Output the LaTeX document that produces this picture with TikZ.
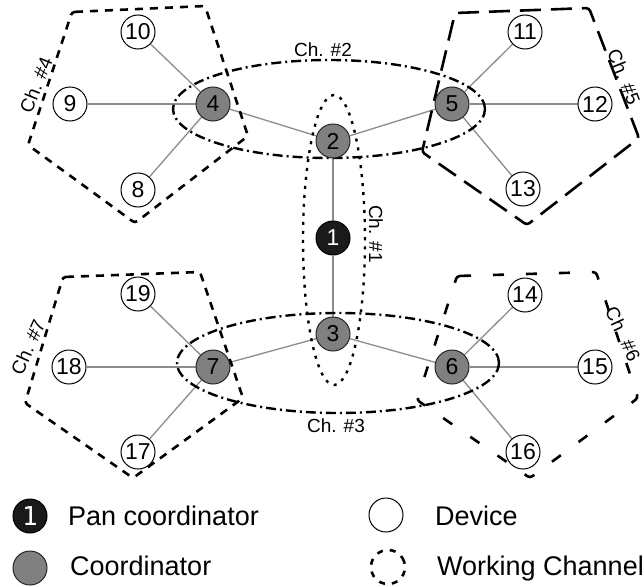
\documentclass[tikz,border=0pt]{standalone}
\usepackage{fontspec}
\setmainfont{Liberation Sans}
\newfontfamily\monofnt{DejaVu Sans Mono}
\usetikzlibrary{backgrounds}
\definecolor{coordgray}{HTML}{808080}
\definecolor{pangray}{HTML}{1A1A1A}
\definecolor{linkgray}{HTML}{8C8C8C}
\tikzset{
  dev/.style={circle,draw=black,line width=1pt,fill=white,minimum size=34pt,inner sep=0pt,font=\fontsize{23}{23}\selectfont},
  crd/.style={dev,fill=coordgray,draw=black!85},
  pan/.style={dev,fill=pangray,text=white},
  link/.style={draw=linkgray,line width=1.3pt},
  chA/.style={line width=2.6pt,dash pattern=on 8pt off 7pt},
  chB/.style={line width=2.6pt,dash pattern=on 21pt off 10pt},
  chC/.style={line width=2.6pt,dash pattern=on 11pt off 22pt},
  chE/.style={line width=2.4pt,dash pattern=on 10pt off 4pt on 2pt off 4pt},
  chD/.style={line width=2.4pt,dash pattern=on 3pt off 6pt},
  chlab/.style={font=\fontsize{19}{19}\selectfont,inner sep=0pt},
  legtxt/.style={font=\fontsize{27}{27}\selectfont,anchor=base west,inner sep=0pt},
}
\begin{document}
\begin{tikzpicture}[x=1pt,y=-1pt]
\useasboundingbox (0,0) rectangle (644,586);
% nodes
\node[pan] (n1) at (333,238) {1};
\node[crd] (n2) at (333,141) {2};
\node[crd] (n3) at (333,334) {3};
\node[crd] (n4) at (213,104) {4};
\node[crd] (n5) at (452,104) {5};
\node[crd] (n6) at (452,367) {6};
\node[crd] (n7) at (213,367) {7};
\node[dev] (n8) at (138,190) {8};
\node[dev] (n9) at (70,104) {9};
\node[dev] (n10) at (138,32) {10};
\node[dev] (n11) at (525,32) {11};
\node[dev] (n12) at (595,104) {12};
\node[dev] (n13) at (523,189) {13};
\node[dev] (n14) at (525,295) {14};
\node[dev] (n15) at (595,367) {15};
\node[dev] (n16) at (523,452) {16};
\node[dev] (n17) at (138,452) {17};
\node[dev] (n18) at (69,367) {18};
\node[dev] (n19) at (138,294) {19};
\begin{scope}[on background layer]
  \draw[link] (n1) -- (n2);
  \draw[link] (n1) -- (n3);
  \draw[link] (n2) -- (n4);
  \draw[link] (n2) -- (n5);
  \draw[link] (n3) -- (n7);
  \draw[link] (n3) -- (n6);
  \draw[link] (n4) -- (n8);
  \draw[link] (n4) -- (n9);
  \draw[link] (n4) -- (n10);
  \draw[link] (n5) -- (n11);
  \draw[link] (n5) -- (n12);
  \draw[link] (n5) -- (n13);
  \draw[link] (n6) -- (n14);
  \draw[link] (n6) -- (n15);
  \draw[link] (n6) -- (n16);
  \draw[link] (n7) -- (n17);
  \draw[link] (n7) -- (n18);
  \draw[link] (n7) -- (n19);
  % channels
  \draw[chE] (329,109) ellipse [x radius=156pt, y radius=49pt];
  \draw[chE] (338,363) ellipse [x radius=161pt, y radius=50pt];
  \draw[chD] (334,240) ellipse [x radius=31pt, y radius=145pt];
  \draw[chA,rounded corners=3pt] (72,12) -- (205,6) -- (248,136) -- (135,223) -- (28,145) -- cycle;
  \draw[chB,rounded corners=3pt] (455,13) -- (589,8) -- (639,138) -- (527,225) -- (422,152) -- cycle;
  \draw[chC,rounded corners=3pt] (457,276) -- (596,272) -- (638,398) -- (530,478) -- (417,400) -- cycle;
  \draw[chA,rounded corners=3pt] (63,277) -- (200,272) -- (243,398) -- (133,478) -- (25,403) -- cycle;
\end{scope}
% channel labels
\node[chlab] (l2) at (323,50) {Ch. \#2};
\node[chlab] (l3) at (336,426) {Ch. \#3};
\node[chlab,rotate=-90] (l1) at (376,234) {Ch. \#1};
\node[chlab,rotate=68] (l4) at (36,85) {Ch. \#4};
\node[chlab,rotate=-68] (l5) at (624,77) {Ch. \#5};
\node[chlab,rotate=-65] (l6) at (623,334) {Ch. \#6};
\node[chlab,rotate=66] (l7) at (28,347) {Ch. \#7};
% legend
\node[pan,font=\monofnt\fontsize{26}{26}\selectfont] (lp) at (30,516) {1};
\node[legtxt] (lpt) at (68,525) {Pan coordinator};
\node[crd] (lc) at (30,568) {};
\node[legtxt] (lct) at (70,575) {Coordinator};
\node[dev] (ld) at (386,515) {};
\node[legtxt] (ldt) at (435,525) {Device};
\node[circle,draw=black,line width=2.6pt,dash pattern=on 6pt off 7pt,minimum size=34pt,inner sep=0pt,rotate=20] (lw) at (388,567) {};
\node[legtxt] (lwt) at (437,575) {Working Channel};
\end{tikzpicture}
\end{document}
